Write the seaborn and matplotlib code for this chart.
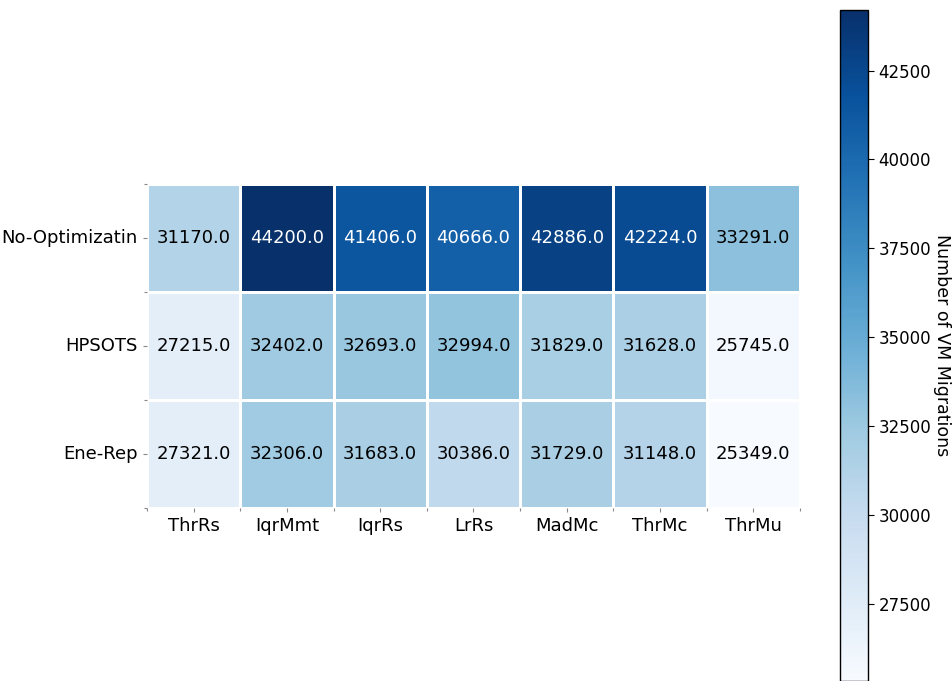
import numpy as np
import pandas as pd
import matplotlib
matplotlib.use("Agg")
import matplotlib.pyplot as plt
import seaborn as sns

methods = ["ThrRs", "IqrMmt", "IqrRs", "LrRs", "MadMc", "ThrMc", "ThrMu"]
schemes = ["No-Optimizatin", "HPSOTS", "Ene-Rep"]
no_opt = [31170, 44200, 41406, 40666, 42886, 42224, 33291]
hpsots = [27215, 32402, 32693, 32994, 31829, 31628, 25745]
ene_rep = [27321, 32306, 31683, 30386, 31729, 31148, 25349]

df = pd.DataFrame([no_opt, hpsots, ene_rep], index=schemes, columns=methods)

fig = plt.figure(figsize=(9.53, 6.81), dpi=100)
ax = fig.add_axes([147/953, (681-508)/681, 653/953, 324/681])
cax = fig.add_axes([840/953, 0.0, 28/953, (681-10)/681])

sns.heatmap(df, ax=ax, cbar_ax=cax, cmap="Blues", annot=True, fmt=".1f",
            annot_kws={"fontsize": 13}, linewidths=2, linecolor="white",
            vmin=min(ene_rep), vmax=max(no_opt))

# seaborn picks white/grey text; the original uses pure black on light cells
for t in ax.texts:
    if t.get_color() != "w":
        t.set_color("black")

ax.tick_params(axis="both", labelsize=13, length=3, width=0.8, color="#888888")
ax.set_yticklabels(schemes, rotation=0)
ax.set_xticklabels(methods, rotation=0)
# small marks at the cell borders
ax.set_xticks(np.arange(len(methods) + 1), minor=True)
ax.set_yticks(np.arange(len(schemes) + 1), minor=True)
ax.tick_params(which="minor", length=2, width=0.8, color="#888888")
ax.set_xlabel("")
ax.set_ylabel("")

cbar = ax.collections[0].colorbar
cbar.outline.set_visible(True)
cbar.outline.set_edgecolor("black")
cbar.outline.set_linewidth(1)
cbar.set_ticks([27500, 30000, 32500, 35000, 37500, 40000, 42500])
cbar.ax.tick_params(labelsize=12, length=4)
cbar.set_label("Number of VM Migrations", rotation=270, va="bottom",
               labelpad=1, fontsize=12.5)

fig.savefig("out.png", dpi=100)
